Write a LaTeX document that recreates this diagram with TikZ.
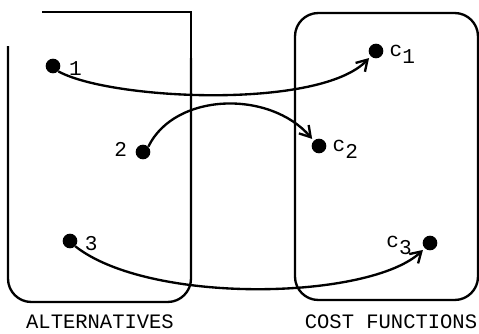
\documentclass[tikz,border=0pt]{standalone}
\usepackage{fontspec}
\setmonofont{Liberation Mono}
\usetikzlibrary{arrows.meta, positioning}
\tikzset{
  dotnode/.style={circle, fill=black, inner sep=0pt, minimum width=0.38cm, minimum height=0.44cm},
  lbl/.style={inner sep=1pt, font=\ttfamily\fontsize{18}{20}\selectfont},
  caption/.style={inner sep=0pt, font=\ttfamily\fontsize{17.5}{20}\selectfont},
  boxline/.style={line width=2pt, rounded corners=0.7cm},
  arrow/.style={-{Straight Barb[length=9pt, width=11pt, line width=2pt]}, line width=2pt, shorten >=2pt}
}
\newcommand{\csub}[1]{c\raisebox{-0.6ex}{#1}}
\begin{document}
\begin{tikzpicture}[x=0.03cm, y=-0.03cm]
  \useasboundingbox (0,0) rectangle (479,333);
  % Left box (open at the top left)
  \draw[boxline] (8,46) -- (8,302) -- (191,302) -- (191,58);
  \draw[line width=1pt] (42,12) -- (191,12) -- (191,110);
  % Right box
  \draw[boxline] (295,13) rectangle (478,300);
  % Alternatives
  \node[dotnode] (a1) at (53,66) {};
  \node[dotnode] (a2) at (143,152) {};
  \node[dotnode] (a3) at (70,241) {};
  \node[lbl, right=6pt of a1, yshift=-2pt] (n1) {1};
  \node[lbl, left=6pt of a2, yshift=2pt] (n2) {2};
  \node[lbl, right=5pt of a3, yshift=-2pt] (n3) {3};
  % Cost functions
  \node[dotnode] (c1) at (376,51) {};
  \node[dotnode] (c2) at (319,146) {};
  \node[dotnode] (c3) at (430,243) {};
  \node[lbl, right=4pt of c1, yshift=-3pt] (m1) {\csub{1}};
  \node[lbl, right=4pt of c2, yshift=-3pt] (m2) {\csub{2}};
  \node[lbl, left=8pt of c3, yshift=-2pt] (m3) {\csub{3}};
  % Mappings
  \draw[arrow] (a1.south east) .. controls (110,100) and (320,110) .. (c1.south west);
  \draw[arrow] (a2.north east) .. controls (175,92) and (270,90) .. (c2.north west);
  \draw[arrow] (a3.south east) .. controls (150,305) and (370,300) .. (c3.south west);
  % Captions
  \node[caption] (alt) at (100,322) {ALTERNATIVES};
  \node[caption] (cost) at (391,322) {COST FUNCTIONS};
\end{tikzpicture}
\end{document}
